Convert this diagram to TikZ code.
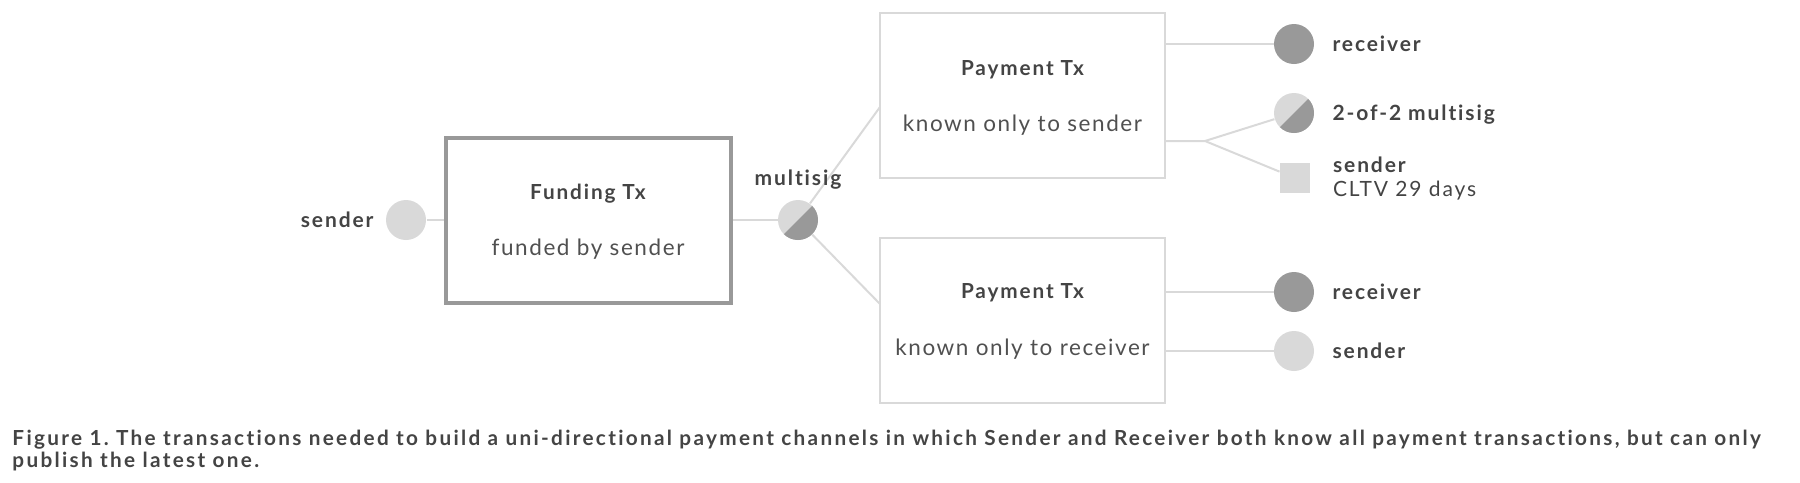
\documentclass[tikz,border=0pt]{standalone}
\usepackage{fontspec}
\setmainfont{Lato}[LetterSpace=9, Ligatures=NoCommon]
\newfontfamily\subfamily{Lato}[LetterSpace=7, Ligatures=NoCommon]
\newfontfamily\capfamily{Lato}[LetterSpace=11.1, Ligatures=NoCommon]
\usetikzlibrary{positioning,backgrounds}

\definecolor{lgray}{HTML}{D9D9D9}
\definecolor{dgray}{HTML}{999999}
\definecolor{ink}{HTML}{444444}
\definecolor{softink}{HTML}{505050}

\tikzset{
  wire/.style={draw=lgray, line width=0.8pt},
  dot/.style={circle, fill=lgray, minimum size=16pt, inner sep=0pt},
  darkdot/.style={dot, fill=dgray},
  halfdot/.style={dot, path picture={\fill[dgray] (path picture bounding box.north east) -- (path picture bounding box.south west) -- (path picture bounding box.south east) -- cycle;}},
  txbox/.style={draw=lgray, line width=0.8pt, minimum width=114pt, minimum height=66pt},
  title/.style={font=\fontsize{8.3}{9}\selectfont\bfseries, text=ink},
  sub/.style={font=\subfamily\fontsize{9}{11}\selectfont, text=softink},
  lab/.style={font=\fontsize{8.4}{9.6}\selectfont\bfseries, text=ink, inner sep=1pt},
  capt/.style={font=\capfamily\fontsize{8.3}{8.8}\selectfont\bfseries, text=ink, inner sep=0pt},
}

\begin{document}
\frenchspacing
\begin{tikzpicture}[x=0.4pt, y=-0.4pt]
  \useasboundingbox (0,0) rectangle (1800,482);

  \node[dot] (snd) at (406,220) {};
  \node[lab, left=3.6pt of snd] (sndL) {sender};
  \node[txbox, draw=dgray, line width=1.6pt] (fund) at (588,220) {};
  \node[title] (fundT) at ([yshift=10.6pt]fund.center) {Funding Tx};
  \node[sub] (fundS) at ([yshift=-11.8pt]fund.center) {funded by sender};
  \node[halfdot] (ms) at (798,220) {};
  \node[lab, above=3pt of ms] (msL) {multisig};

  \node[txbox] (pay1) at (1022.5,95.5) {};
  \node[title] (pay1T) at ([yshift=10.5pt]pay1.center) {Payment Tx};
  \node[sub] (pay1S) at ([yshift=-11.9pt]pay1.center) {known only to sender};
  \node[txbox] (pay2) at (1022.5,320) {};
  \node[title] (pay2T) at ([yshift=10.8pt]pay2.center) {Payment Tx};
  \node[sub] (pay2S) at ([yshift=-11.8pt]pay2.center) {known only to receiver};

  \node[darkdot] (rcv1) at (1294,44) {};
  \node[lab, right=6pt of rcv1] (rcv1L) {receiver};
  \node[halfdot] (ms2) at (1294,113) {};
  \node[lab, right=6pt of ms2, yshift=-0.8pt] (ms2L) {2-of-2 multisig};
  \node[fill=lgray, minimum size=12pt, inner sep=0pt] (sq) at (1295,178) {};
  \node[lab, right=7.8pt of sq, align=left] (sqL) {sender\\{\mdseries CLTV 29 days}};
  \node[darkdot] (rcv2) at (1294,292) {};
  \node[lab, right=6pt of rcv2] (rcv2L) {receiver};
  \node[dot] (snd2) at (1294,351) {};
  \node[lab, right=6pt of snd2] (snd2L) {sender};

  \coordinate (in1) at (880,107);
  \coordinate (in2) at (880,304);
  \coordinate (fork) at (1205,141);
  \begin{scope}[on background layer]
    \draw[wire] (snd) -- (fund);
    \draw[wire] (fund) -- (ms);
    \draw[wire] (ms) -- (in1);
    \draw[wire] (ms) -- (in2);
    \draw[wire] (pay1.east |- rcv1) -- (rcv1);
    \draw[wire] (pay1.east |- fork) -- (fork) -- (ms2);
    \draw[wire] (fork) -- (sq);
    \draw[wire] (pay2.east |- rcv2) -- (rcv2);
    \draw[wire] (pay2.east |- snd2) -- (snd2);
  \end{scope}

  \node[capt, anchor=north west, align=left] (cap) at (12,429.5) {Figure 1. The transactions needed to build a uni-directional payment channels in which Sender and Receiver both know all payment transactions, but can only\\publish the latest one.};
\end{tikzpicture}
\end{document}
